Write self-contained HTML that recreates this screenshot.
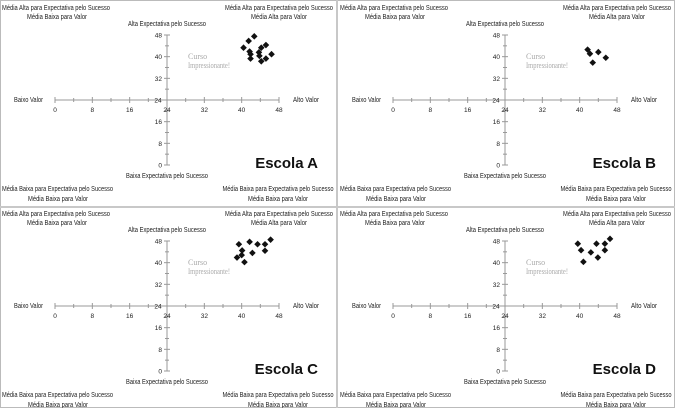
<!DOCTYPE html>
<html><head><meta charset="utf-8"><style>
html,body{margin:0;padding:0;background:#fff;}
svg{display:block;font-family:"Liberation Sans",sans-serif;}
</style></head><body>
<svg id="chart" width="675" height="408" viewBox="0 0 675 408" xmlns="http://www.w3.org/2000/svg">
<rect x="0" y="0" width="675" height="408" fill="#fff"/>
<rect x="0.5" y="0.5" width="674" height="407" fill="none" stroke="#bbb" stroke-width="1"/>
<rect x="336" y="0" width="2" height="408" fill="#c8c8c8"/>
<rect x="0" y="206" width="675" height="2" fill="#c8c8c8"/>
</svg>
<script>
const panelNames = ["Escola A","Escola B","Escola C","Escola D"];
const xTicks = [0,8,16,24,32,40,48];
const yTicks = [0,8,16,24,32,40,48];
const aX = [42.7,41.5,45.2,40.4,44.2,41.7,43.7,46.4,41.9,43.8,41.9,45.2,44.2];
const aY = [47.5,45.8,44.3,43.3,43.3,41.9,41.6,40.9,40.9,40.3,39.3,39.3,38.3];
const bX = [41.7,42.2,44.0,45.6,42.8];
const bY = [42.6,41.1,41.7,39.6,37.8];
const cX = [39.4,41.7,43.4,45.0,46.2,40.1,42.3,45.0,39.0,40.0,40.6];
const cY = [46.8,47.7,46.8,46.8,48.5,44.5,43.6,44.4,41.9,42.8,40.2];
const dX = [39.6,40.3,40.8,42.4,43.6,43.9,45.4,45.4,46.5];
const dY = [47.0,44.6,40.3,43.8,47.0,41.9,47.0,44.6,48.8];
const seriesX = [aX,bX,cX,dX];
const seriesY = [aY,bY,cY,dY];

const NS="http://www.w3.org/2000/svg";
const svg=document.getElementById('chart');
const offsets=[[0,0],[338,0],[0,206],[338,206]];
function mk(tag,attrs,parent){const e=document.createElementNS(NS,tag);for(const k in attrs)e.setAttribute(k,attrs[k]);parent.appendChild(e);return e;}
function txt(parent,x,y,s,opts){
  const t=mk('text',{x:x,y:y,'font-size':opts.size||7,fill:opts.fill||'#222','text-anchor':opts.anchor||'start'},parent);
  if(opts.len){t.setAttribute('textLength',opts.len);t.setAttribute('lengthAdjust','spacingAndGlyphs');}
  if(opts.weight)t.setAttribute('font-weight',opts.weight);
  if(opts.family)t.setAttribute('font-family',opts.family);
  t.textContent=s;return t;}

panelNames.forEach((name,i)=>{
  const [ox,oy]=offsets[i];
  const g=mk('g',{transform:`translate(${ox},${oy})`},svg);
  
  
  const sx=v=>55+v*(224/48);
  const sy=v=>165-v*(130/48);
  // axes
  const ax=mk('line',{x1:sx(0),x2:sx(48),y1:sy(24),y2:sy(24),stroke:'#999','stroke-width':1},g);
  
  
  const ay=mk('line',{x1:sx(24),x2:sx(24),y1:sy(0),y2:sy(48),stroke:'#999','stroke-width':1},g);
  
  
  for(let v=0;v<=48;v+=4){
    const big=v%8===0;
    mk('line',{x1:sx(v),x2:sx(v),y1:sy(24)-(big?3:2),y2:sy(24)+(big?3:2),stroke:'#999','stroke-width':1},g);
    mk('line',{x1:sx(24)-(big?3:2),x2:sx(24)+(big?3:2),y1:sy(v),y2:sy(v),stroke:'#999','stroke-width':1},g);
  }
  xTicks.forEach(v=>{const t=txt(g,sx(v),sy(24)+12,String(v),{anchor:'middle',size:6.5});
    
    });
  yTicks.forEach(v=>{if(v===24)return;const t=txt(g,sx(24)-5,sy(v)+2.5,String(v),{anchor:'end',size:6.5});
    
    });
  txt(g,sx(24)-9,sy(24)+2.5,'24',{anchor:'middle',size:6.5});
  // quadrant labels
  const q=[[2,10,'Média Alta para Expectativa pelo Sucesso',108,'start'],[57,19,'Média Baixa para Valor',60,'middle'],
    [279,10,'Média Alta para Expectativa pelo Sucesso',108,'middle'],[279,19,'Média Alta para Valor',56,'middle'],
    [167,26,'Alta Expectativa pelo Sucesso',78,'middle'],[167,178,'Baixa Expectativa pelo Sucesso',82,'middle'],
    [2,191,'Média Baixa para Expectativa pelo Sucesso',111,'start'],[58,201,'Média Baixa para Valor',60,'middle'],
    [278,191,'Média Baixa para Expectativa pelo Sucesso',111,'middle'],[278,201,'Média Baixa para Valor',60,'middle'],
    [14,102,'Baixo Valor',29,'start'],[293,102,'Alto Valor',26,'start']];
  q.forEach(([x,y,s,l,a])=>{const t=txt(g,x,y,s,{len:l,anchor:a,size:7});
    
    });
  const c1=txt(g,188,59,'Curso',{fill:'#aaa',size:8,family:'"Liberation Serif",serif'});
  
  
  const c2=txt(g,188,68,'Impressionante!',{fill:'#aaa',size:8,family:'"Liberation Serif",serif',len:42});
  
  
  const title=txt(g,318,168,name,{anchor:'end',size:15,weight:'bold',fill:'#111'});
  
  
  const xs=seriesX[i],ys=seriesY[i];
  xs.forEach((xv,j)=>{const px=sx(xv),py=sy(ys[j]);
    const p=mk('path',{d:`M${px},${py-3.3}L${px+3.3},${py}L${px},${py+3.3}L${px-3.3},${py}Z`,fill:'#111'},g);
    
    });
});
</script>
</body></html>
